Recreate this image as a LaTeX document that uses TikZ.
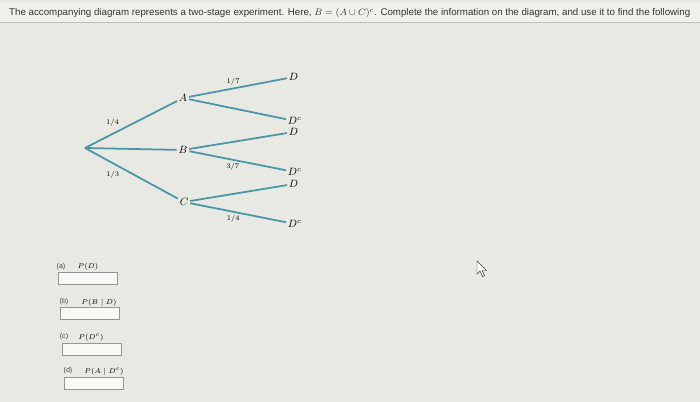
\documentclass[tikz,border=0pt]{standalone}
\usepackage{amsmath}
\usepackage{fontspec}
\setsansfont{Liberation Sans}
\usetikzlibrary{positioning}

\definecolor{branch}{RGB}{72,150,168}
\definecolor{screen}{RGB}{233,233,227}
\definecolor{headbar}{RGB}{240,240,236}
\definecolor{boxline}{RGB}{150,150,145}

\begin{document}
\begin{tikzpicture}[x=0.03cm, y=-0.03cm,
  event/.style={inner sep=1.5pt, font=\small},
  leaf/.style={inner sep=1.5pt, anchor=west, font=\small},
  prob/.style={inner sep=1pt, font=\fontsize{6}{7}\selectfont},
  part/.style={inner sep=0pt, font=\sffamily\fontsize{6}{7}\selectfont, text=black!75},
  answer/.style={draw=boxline, fill=white!70!screen, minimum width=1.78cm, minimum height=0.36cm, inner sep=0pt}]

  % Screen background
  \fill[screen] (0,0) rectangle (700,402);
  \useasboundingbox (0,0) rectangle (700,402);
  \fill[headbar] (0,3) rectangle (700,22);
  \draw[black!25, line width=0.4pt] (0,22) -- (700,22);
  \node[anchor=west, inner sep=0pt, font=\sffamily\fontsize{8.3}{9}\selectfont, text=black!80] (intro) at (9,13)
    {The accompanying diagram represents a two-stage experiment. Here, $B=(A\cup C)^{c}$. Complete the information on the diagram, and use it to find the following};

  % First stage
  \coordinate (root) at (85,148);
  \node[event] (A) at (183,98) {$A$};
  \node[event] (B) at (183,150) {$B$};
  \node[event] (C) at (184,202) {$C$};

  % Second stage
  \node[leaf] (AD) at (287,77) {$D$};
  \node[leaf] (ADc) at (286,121) {$D^{c}$};
  \node[leaf] (BD) at (287,132) {$D$};
  \node[leaf] (BDc) at (286,172) {$D^{c}$};
  \node[leaf] (CD) at (287,184) {$D$};
  \node[leaf] (CDc) at (286,224) {$D^{c}$};

  \begin{scope}[branch, line width=1.5pt]
    \draw (root) -- (A) node[prob, text=black, pos=0.4, above left=1pt] (pA) {1/4};
    \draw (root) -- (B);
    \draw (root) -- (C) node[prob, text=black, pos=0.4, below left=1pt] (pC) {1/3};
    \draw (A) -- (AD) node[prob, text=black, pos=0.45, above=1pt] (pAD) {1/7};
    \draw (A) -- (ADc);
    \draw (B) -- (BD);
    \draw (B) -- (BDc) node[prob, text=black, pos=0.45, below=1pt] (pBDc) {3/7};
    \draw (C) -- (CD);
    \draw (C) -- (CDc) node[prob, text=black, pos=0.45, below=1pt] (pCDc) {1/4};
  \end{scope}

  % Questions
  \node[part] (la) at (61,267) {(a)};
  \node[prob] (qa) at (88,267) {$P(D)$};
  \node[answer] (boxa) at (87.5,278) {};
  \node[part] (lb) at (64,302) {(b)};
  \node[prob] (qb) at (99,303) {$P(B\mid D)$};
  \node[answer] (boxb) at (89.5,313) {};
  \node[part] (lc) at (64,337) {(c)};
  \node[prob] (qc) at (91,338) {$P(D^{c})$};
  \node[answer] (boxc) at (91.5,349) {};
  \node[part] (ld) at (68,371) {(d)};
  \node[prob] (qd) at (104,372) {$P(A\mid D^{c})$};
  \node[answer] (boxd) at (93.5,383.5) {};

  % Mouse pointer
  \filldraw[fill=white, draw=black!80, line width=0.4pt]
    (477,261) -- (477,274) -- (480,271) -- (482.5,276.5) -- (484.5,275.5) -- (482,270.5) -- (486.5,270.5) -- cycle;
\end{tikzpicture}
\end{document}
